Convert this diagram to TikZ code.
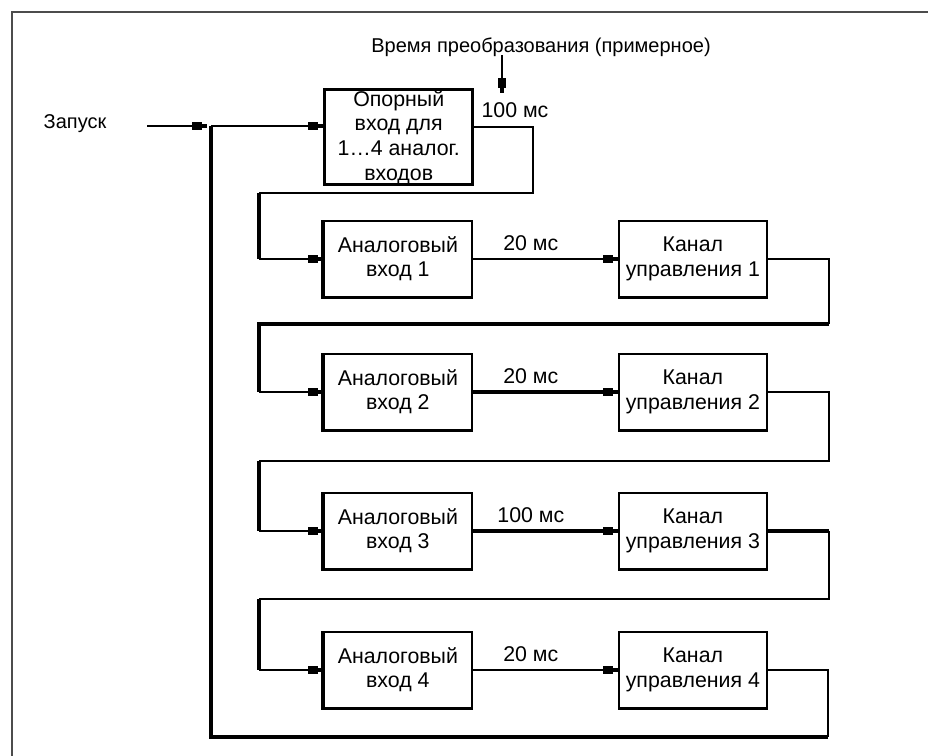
\documentclass[tikz,border=0pt]{standalone}
\usepackage{fontspec}
\setmainfont{Liberation Sans}
\usetikzlibrary{arrows.meta}
\begin{document}
\begin{tikzpicture}[x=0.75pt,y=-0.75pt,
  thinln/.style={line width=1.3pt},
  thickln/.style={line width=2.6pt},
  tipped/.style={-{Rectangle[length=8pt,width=6pt]Rectangle[length=3.5pt,width=3.5pt]}},
  box/.style={draw, line width=1.3pt, minimum width=111pt, minimum height=57pt, inner sep=0pt,
    align=center, anchor=north west, font=\fontsize{16}{18.5}\selectfont},
  lbl/.style={font=\fontsize{15}{18}\selectfont, inner sep=0pt}
]
\useasboundingbox (0,0) rectangle (928,756);
\fill[white] (0,0) rectangle (928,756);
% frame
\draw[line width=1.5pt, black!70] (12,760) -- (12,12) -- (932,12);

% texts
\node[lbl] (zap) at (75,124) {Запуск};
\node[lbl] (conv) at (541,47) {Время преобразования (примерное)};
\node[lbl, font=\fontsize{16}{18}\selectfont] (t0) at (515,110) {100 мс};

% boxes
\node[box, line width=2.6pt, minimum height=71.25pt] (ref) at (323,88) {Опорный\\вход для\\1…4 аналог.\\входов};
\node[box] (a1) at (323,220) {Аналоговый\\вход 1};
\node[box] (c1) at (618,220) {Канал\\управления 1};
\node[box] (a2) at (323,353) {Аналоговый\\вход 2};
\node[box] (c2) at (618,353) {Канал\\управления 2};
\node[box] (a3) at (323,492) {Аналоговый\\вход 3};
\node[box] (c3) at (618,492) {Канал\\управления 3};
\node[box] (a4) at (323,631) {Аналоговый\\вход 4};
\node[box] (c4) at (618,631) {Канал\\управления 4};

% heavier left/bottom edges
\foreach \b in {a1,a2,a3,a4}{
  \draw[line width=2.6pt] (\b.north west) -- (\b.south west) -- (\b.south east);
}
\foreach \b in {c1,c2,c3,c4}{
  \draw[line width=2.6pt] (\b.south west) -- (\b.south east);
}

% coordinates
\coordinate (st) at (147,126);
\coordinate (J) at (211,126);
\coordinate (Jin) at (207,126);
\coordinate (tt) at (502,55);
\coordinate (tb) at (502,93);
\coordinate (rt) at (533,127);
\coordinate (l0) at (259,193);
\coordinate (r1) at (829,324);
\coordinate (l1) at (259,324);
\coordinate (r2) at (829,461);
\coordinate (l2) at (259,461);
\coordinate (r3) at (829,599);
\coordinate (l3) at (259,599);
\coordinate (r4) at (828,737);
\coordinate (l4) at (211,737);

% start
\draw[thinln, tipped] (st) -- (Jin);
\draw[thinln, tipped] (J) -- (J -| ref.west);
\draw[thinln, tipped] (tt) -- (tb);

% reference output to row 1
\draw[thinln] (ref.east |- rt) -- (rt) |- (l0);
\draw[thickln] (l0) -- (l0 |- a1.west);
\draw[thinln, tipped] (l0 |- a1.west) -- (a1.west);

% row 1
\draw[thinln, tipped] (a1.east) -- (c1.west) node[lbl, font=\fontsize{16}{18}\selectfont, pos=0.4, yshift=12pt] (t1) {20 мс};
\draw[thinln] (c1.east) -- (c1.east -| r1) -- (r1);
\draw[thickln] (r1) -- (l1) -- (l1 |- a2.west);
\draw[thinln, tipped] (l1 |- a2.west) -- (a2.west);

% row 2
\draw[thickln, tipped] (a2.east) -- (c2.west) node[lbl, font=\fontsize{16}{18}\selectfont, pos=0.4, yshift=12pt] (t2) {20 мс};
\draw[thinln] (c2.east) -- (c2.east -| r2) -- (r2) -- (l2);
\draw[thickln] (l2) -- (l2 |- a3.west);
\draw[thinln, tipped] (l2 |- a3.west) -- (a3.west);

% row 3
\draw[thickln, tipped] (a3.east) -- (c3.west) node[lbl, font=\fontsize{16}{18}\selectfont, pos=0.4, yshift=12pt] (t3) {100 мс};
\draw[thickln] (c3.east) -- (c3.east -| r3);
\draw[thinln] (c3.east -| r3) -- (r3) -- (l3);
\draw[thickln] (l3) -- (l3 |- a4.west);
\draw[thinln, tipped] (l3 |- a4.west) -- (a4.west);

% row 4 and feedback
\draw[thinln, tipped] (a4.east) -- (c4.west) node[lbl, font=\fontsize{16}{18}\selectfont, pos=0.4, yshift=12pt] (t4) {20 мс};
\draw[thinln] (c4.east) -- (c4.east -| r4) -- (r4);
\draw[thickln] (r4) -- (l4) -- (J);
\end{tikzpicture}
\end{document}
